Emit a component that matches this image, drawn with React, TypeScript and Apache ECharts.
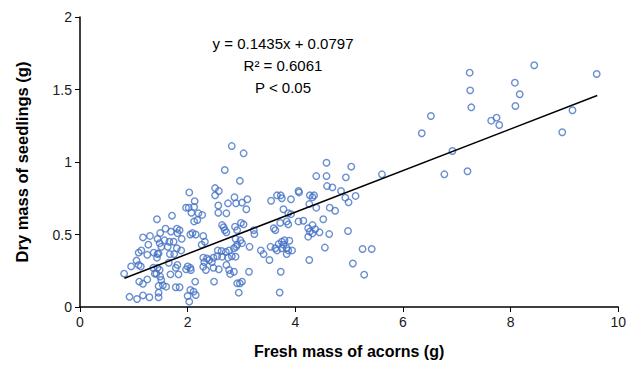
import React, { useEffect, useRef } from "react";
import * as echarts from "echarts";

// Fresh mass of acorns (g)
const freshMass: number[] = [
  1.17, 1.30, 1.27, 1.14, 1.09, 1.37, 1.44, 1.25, 1.05, 1.09, 1.13, 0.95, 1.36, 0.82, 1.39, 1.10, 1.17, 1.25, 1.46, 0.92, 1.06, 1.17, 1.29,
  2.51, 2.58, 2.51, 2.03, 2.87, 2.13, 2.57, 2.75, 2.90, 1.97, 2.02, 2.12, 2.07, 2.20, 2.27, 2.57, 2.72, 1.71, 1.43, 2.12, 2.18, 2.64, 2.67, 2.69, 2.72, 2.88, 2.92,
  1.59, 1.69, 1.80, 1.85, 1.81, 1.49, 1.44, 2.09, 2.05, 2.15, 2.29, 1.89, 1.57, 1.48, 1.66, 1.74, 2.26, 2.32, 1.51, 1.63, 1.67, 1.75, 1.80, 1.88,
  2.56, 2.63, 2.71, 2.77, 2.86, 2.90, 1.46, 1.43, 2.29, 2.36, 2.31, 2.40, 2.45, 2.48, 2.55, 2.64, 2.75, 2.82, 2.89, 2.00, 2.05, 1.97, 2.06,
  2.29, 2.34, 2.48, 2.58, 2.72, 2.77, 2.79, 1.65, 1.81, 1.78, 1.44, 1.48, 1.42, 1.49, 1.68, 1.83, 1.51, 1.54, 1.60, 1.78, 1.85, 2.14, 2.49,
  2.05, 2.11, 2.15, 2.00, 2.03, 1.46, 1.46, 2.92,
  2.97, 3.01, 3.11, 3.09, 3.55, 3.66, 3.73, 3.75, 3.92, 4.06, 4.07, 4.27, 4.35, 4.32, 4.26, 3.78, 3.87, 3.92, 3.84, 3.72, 3.87, 4.06, 4.15,
  4.32, 4.24, 4.37, 3.60, 3.63, 2.99, 3.04, 3.23, 3.24, 4.27, 4.32, 4.24, 2.89, 2.98, 3.01, 2.92, 3.15, 3.75, 3.80, 3.89, 3.69, 3.78,
  3.54, 3.63, 3.66, 3.75, 3.84, 3.94, 3.87, 3.84, 3.36, 3.41, 3.52, 4.26, 2.86, 3.14, 3.73, 2.97, 3.01, 2.95, 3.71,
  4.58, 5.04, 4.39, 4.58, 4.94, 5.61, 4.59, 4.69, 4.85, 4.93, 4.99, 5.12, 4.39, 4.64, 4.74, 4.52, 4.45, 4.63, 4.98, 4.55, 5.25, 5.42, 5.07, 5.28,
  2.82, 2.69, 3.04,
  6.35, 6.52, 6.77, 6.92, 7.20, 7.24, 7.25, 7.27, 7.64, 7.74, 7.79, 8.08, 8.17, 8.09, 8.44, 8.96, 9.15, 9.60,
];

// Dry mass of seedlings (g)
const dryMass: number[] = [
  0.48, 0.49, 0.43, 0.39, 0.375, 0.375, 0.365, 0.36, 0.32, 0.29, 0.28, 0.28, 0.27, 0.23, 0.23, 0.175, 0.16, 0.19, 0.145, 0.07, 0.055, 0.08, 0.067,
  0.82, 0.80, 0.77, 0.79, 0.757, 0.73, 0.70, 0.715, 0.715, 0.685, 0.685, 0.69, 0.65, 0.646, 0.635, 0.65, 0.646, 0.63, 0.605, 0.59, 0.60, 0.565, 0.55, 0.53, 0.515, 0.554, 0.53,
  0.54, 0.52, 0.54, 0.53, 0.51, 0.51, 0.47, 0.51, 0.50, 0.50, 0.49, 0.47, 0.46, 0.44, 0.45, 0.45, 0.43, 0.45, 0.415, 0.415, 0.365, 0.365, 0.405, 0.39,
  0.39, 0.386, 0.38, 0.39, 0.405, 0.415, 0.37, 0.34, 0.34, 0.335, 0.31, 0.324, 0.31, 0.34, 0.35, 0.347, 0.34, 0.35, 0.347, 0.28, 0.27, 0.26, 0.255,
  0.278, 0.255, 0.27, 0.26, 0.29, 0.255, 0.228, 0.305, 0.29, 0.27, 0.27, 0.255, 0.23, 0.21, 0.225, 0.225, 0.186, 0.15, 0.14, 0.136, 0.136, 0.175, 0.175,
  0.117, 0.106, 0.083, 0.076, 0.037, 0.099, 0.067, 0.163,
  0.87, 0.72, 0.743, 0.674, 0.733, 0.77, 0.77, 0.75, 0.743, 0.80, 0.79, 0.77, 0.77, 0.757, 0.71, 0.674, 0.646, 0.64, 0.59, 0.58, 0.57, 0.59, 0.595,
  0.565, 0.543, 0.536, 0.543, 0.53, 0.58, 0.57, 0.53, 0.503, 0.52, 0.508, 0.485, 0.47, 0.46, 0.44, 0.43, 0.415, 0.45, 0.46, 0.457, 0.434, 0.43,
  0.415, 0.405, 0.39, 0.405, 0.405, 0.39, 0.39, 0.365, 0.39, 0.365, 0.324, 0.324, 0.243, 0.243, 0.243, 0.163, 0.175, 0.099, 0.10,
  0.995, 0.968, 0.903, 0.903, 0.894, 0.915, 0.834, 0.825, 0.80, 0.754, 0.722, 0.766, 0.685, 0.685, 0.664, 0.605, 0.515, 0.503, 0.524, 0.41, 0.40, 0.40, 0.30, 0.223,
  1.11, 0.945, 1.06,
  1.198, 1.317, 0.915, 1.076, 0.936, 1.616, 1.494, 1.377, 1.285, 1.306, 1.255, 1.547, 1.467, 1.386, 1.667, 1.205, 1.357, 1.607,
];

// Linear trend line (as printed on the chart)
const trendSlope = 0.1435;
const trendIntercept = 0.0797;
const trendRange: number[] = [0.825, 9.61];

const annotationLines: string[] = ["y = 0.1435x + 0.0797", "R² = 0.6061", "P < 0.05"];

const xTicks = { min: 0, max: 10, interval: 2 };
const yTicks = { min: 0, max: 2, interval: 0.5 };

export default function App() {
  const ref = useRef<HTMLDivElement>(null);

  useEffect(() => {
    document.body.style.margin = "0";
    if (!ref.current) return;
    const chart = echarts.init(ref.current, undefined, { renderer: "svg" });
    const points = freshMass.map((x, i) => [x, dryMass[i]]);
    const trend = trendRange.map((x) => [x, trendSlope * x + trendIntercept]);
    const font = "'Liberation Sans', Arial, sans-serif";

    chart.setOption({
      animation: false,
      backgroundColor: "#ffffff",
      grid: { left: 80, right: 7, top: 17, bottom: 60, containLabel: false },
      xAxis: {
        type: "value",
        min: xTicks.min,
        max: xTicks.max,
        interval: xTicks.interval,
        name: "Fresh mass of acorns (g)",
        nameLocation: "middle",
        nameGap: 36,
        nameTextStyle: { fontFamily: font, fontSize: 16, fontWeight: "bold", color: "#000" },
        axisLine: { onZero: false, lineStyle: { color: "#000", width: 1.5 } },
        axisTick: { show: true, length: 5, lineStyle: { color: "#000", width: 1 } },
        axisLabel: { fontFamily: font, fontSize: 14, color: "#1a1a1a", margin: 8 },
        splitLine: { show: false },
      },
      yAxis: {
        type: "value",
        min: yTicks.min,
        max: yTicks.max,
        interval: yTicks.interval,
        name: "Dry mass of seedlings (g)",
        nameLocation: "middle",
        nameGap: 50,
        nameTextStyle: { fontFamily: font, fontSize: 16.5, fontWeight: "bold", color: "#000" },
        axisLine: { show: true, lineStyle: { color: "#000", width: 1.5 } },
        axisTick: { show: true, length: 5, lineStyle: { color: "#000", width: 1 } },
        axisLabel: { fontFamily: font, fontSize: 14, color: "#1a1a1a", margin: 8 },
        splitLine: { show: false },
      },
      graphic: annotationLines.map((t, i) => ({
        type: "text",
        x: 283,
        y: 43 + i * 22,
        style: {
          text: t,
          fontFamily: font,
          fontSize: 15,
          fill: "#000",
          textAlign: "center",
          textVerticalAlign: "middle",
        },
        z: 10,
      })),
      series: [
        {
          type: "scatter",
          data: points,
          symbol: "circle",
          symbolSize: 6.5,
          itemStyle: { color: "rgba(255,255,255,0)", borderColor: "#4472C4", borderWidth: 1.4 },
          z: 2,
        },
        {
          type: "line",
          data: trend,
          showSymbol: false,
          symbol: "none",
          lineStyle: { color: "#000", width: 1.5 },
          z: 3,
        },
      ],
    });
    return () => chart.dispose();
  }, []);

  return <div ref={ref} style={{ width: 629, height: 367 }} />;
}
